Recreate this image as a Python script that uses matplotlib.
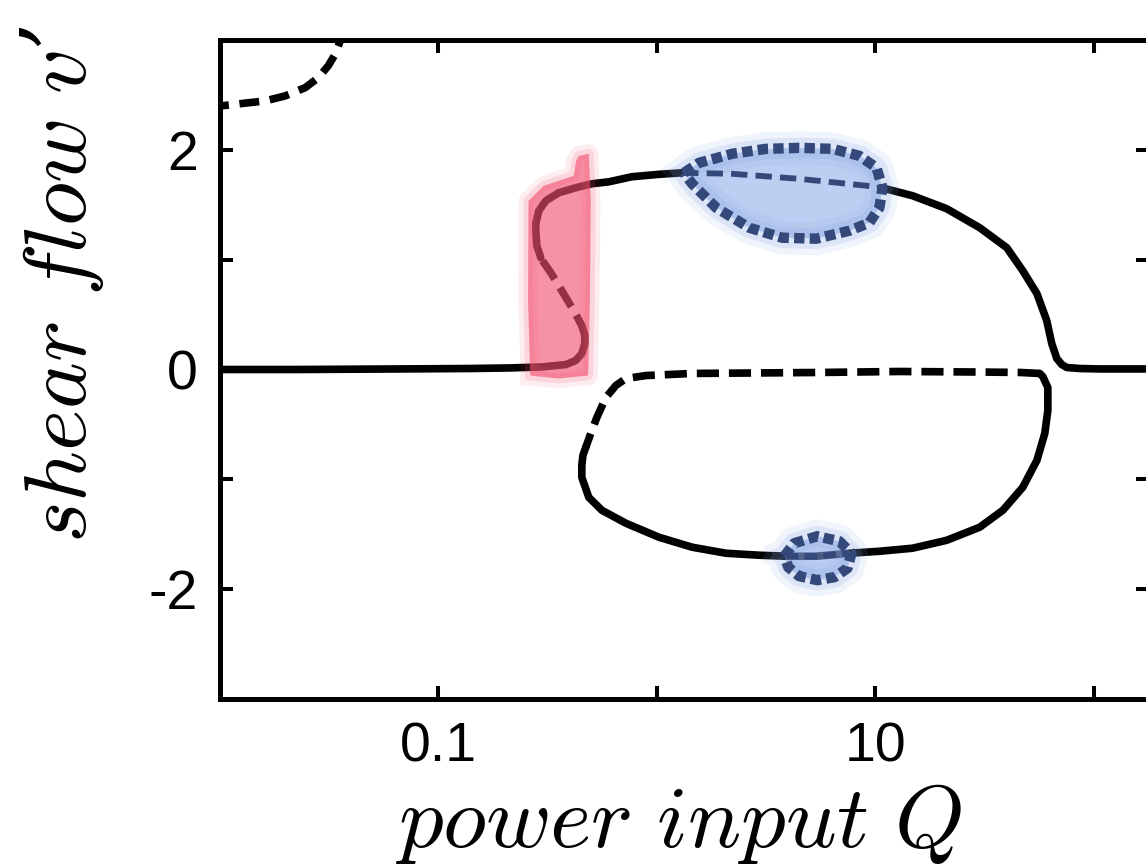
import numpy as np
import matplotlib
matplotlib.use("Agg")
import matplotlib.pyplot as plt

plt.rcParams["mathtext.fontset"] = "cm"
plt.rcParams["font.family"] = ["Liberation Sans", "DejaVu Sans"]

# --- branches: log10(Q) and v' ---
# lower stable branch (solid), up to the lower fold
low_logq = [-2.05, -1.642, -1.183, -0.862, -0.679, -0.528, -0.417, -0.372, -0.344, -0.330, -0.330]
low_v = [0.0, 0.0, 0.005, 0.009, 0.014, 0.023, 0.045, 0.082, 0.145, 0.236, 0.309]

# middle unstable part of the S (dashed)
mid_logq = [-0.330, -0.344, -0.381, -0.436, -0.486, -0.518, -0.532]
mid_v = [0.309, 0.4, 0.536, 0.718, 0.882, 0.973, 1.018]

# upper stable branch up to the Hopf point (solid)
up_logq = [-0.532, -0.550, -0.555, -0.555, -0.541, -0.509, -0.450, -0.372, -0.298, -0.220, -0.115, 0.009, 0.115]
up_v = [1.018, 1.127, 1.264, 1.327, 1.445, 1.536, 1.609, 1.655, 1.691, 1.709, 1.755, 1.777, 1.791]

# unstable continuation inside the blue leaf (dashed)
leafmid_logq = [0.115, 0.344, 0.651, 0.959, 1.028]
leafmid_v = [1.791, 1.782, 1.736, 1.673, 1.655]

# upper branch after the leaf, back down to zero (solid)
right_logq = [1.028, 1.170, 1.326, 1.477, 1.601, 1.674, 1.739, 1.784, 1.807, 1.830, 1.853, 1.876, 1.936, 2.028, 2.30]
right_v = [1.655, 1.582, 1.464, 1.291, 1.109, 0.9, 0.691, 0.445, 0.236, 0.1, 0.045, 0.018, 0.009, 0.005, 0.005]

# isolated loop below: top part (dashed)
loop_top_logq = [1.752, 1.661, 1.477, 1.110, 0.743, 0.422, 0.161, -0.050, -0.142, -0.188, -0.234, -0.275, -0.303, -0.326]
loop_top_v = [-0.036, -0.027, -0.023, -0.018, -0.027, -0.032, -0.036, -0.055, -0.082, -0.145, -0.255, -0.436, -0.582, -0.709]

# isolated loop below: bottom part (solid)
loop_bot_logq = [-0.326, -0.339, -0.344, -0.344, -0.312, -0.252, -0.142, 0.009, 0.161, 0.317, 0.468, 0.592, 0.729,
                 0.881, 1.018, 1.170, 1.326, 1.477, 1.583, 1.674, 1.739, 1.775, 1.789, 1.789, 1.766, 1.752]
loop_bot_v = [-0.709, -0.782, -0.873, -0.982, -1.164, -1.282, -1.4, -1.527, -1.618, -1.673, -1.691, -1.7, -1.7,
              -1.673, -1.655, -1.627, -1.555, -1.436, -1.282, -1.073, -0.827, -0.582, -0.373, -0.164, -0.064, -0.036]

# top-left corner branch (dashed)
corner_logq = [-2.05, -1.995, -1.904, -1.794, -1.702, -1.610, -1.550, -1.505, -1.472, -1.450, -1.443]
corner_v = [2.39, 2.4, 2.421, 2.445, 2.491, 2.566, 2.657, 2.764, 2.873, 2.991, 3.06]

# periodic-orbit envelope (blue leaf) on the upper branch
leaf_logq = [0.124, 0.193, 0.344, 0.5, 0.651, 0.803, 0.927, 1.005, 1.032, 1.018, 0.972, 0.881, 0.729, 0.573, 0.422, 0.271, 0.161, 0.124]
leaf_v = [1.791, 1.882, 1.964, 2.009, 2.018, 2.009, 1.945, 1.836, 1.655, 1.473, 1.336, 1.264, 1.191, 1.2, 1.291, 1.473, 1.691, 1.791]

# small periodic-orbit envelope on the lower loop
blob_logq = [0.583, 0.628, 0.734, 0.835, 0.890, 0.872, 0.812, 0.734, 0.651, 0.601, 0.583]
blob_v = [-1.7, -1.582, -1.518, -1.564, -1.673, -1.809, -1.891, -1.918, -1.882, -1.8, -1.7]
blobmid_logq = [0.59, 0.73, 0.88]
blobmid_v = [-1.70, -1.70, -1.673]

# hysteresis region (red band)
red_logq = [-0.580, -0.590, -0.588, -0.518, -0.381, -0.37, -0.358, -0.312, -0.303, -0.307, -0.315, -0.450, -0.580]
red_v = [-0.055, 0.627, 1.536, 1.673, 1.764, 1.9, 1.945, 1.964, 1.536, 0.627, -0.055, -0.082, -0.055]

x_ticks = [0.1, 1, 10, 100]
x_labels = ["0.1", "", "10", ""]
y_ticks = [-2, -1, 0, 1, 2]
y_labels = ["-2", "", "0", "", "2"]


def q(logq):
    return 10 ** np.asarray(logq)


fig = plt.figure(figsize=(11.46, 8.67), dpi=100)
ax = fig.add_axes([0.19197, 0.19377, 0.81065, 0.76009])

lw = 5.5
dash = (0, (2.9, 1.3))
kw_solid = dict(color="black", lw=lw, solid_capstyle="round", solid_joinstyle="round", zorder=2)
kw_dash = dict(color="black", lw=lw, ls=dash, dash_capstyle="butt", dash_joinstyle="round", zorder=2)

ax.plot(q(low_logq), low_v, **kw_solid)
ax.plot(q(mid_logq), mid_v, **kw_dash)
ax.plot(q(up_logq), up_v, **kw_solid)
ax.plot(q(right_logq), right_v, **kw_solid)
ax.plot(q(loop_top_logq), loop_top_v, **kw_dash)
ax.plot(q(loop_bot_logq), loop_bot_v, **kw_solid)
ax.plot(q(corner_logq), corner_v, color="black", lw=lw, ls=(0, (2.6, 1.4)),
        dash_capstyle="butt", zorder=2)

# red band with soft edges
red_c = "#f2506e"
for w, a in [(14, 0.10), (7, 0.15)]:
    ax.plot(q(red_logq), red_v, color=red_c, lw=w, alpha=a,
            solid_joinstyle="round", zorder=3)
ax.fill(q(red_logq), red_v, color=red_c, alpha=0.62, lw=0, zorder=3)

# blue envelopes with soft halo
blue_c = "#86a6e6"
navy = "#34497a"
for lx, ly in [(leaf_logq, leaf_v), (blob_logq, blob_v)]:
    for w, a in [(24, 0.12), (15, 0.18)]:
        ax.plot(q(lx), ly, color=blue_c, lw=w, alpha=a,
                solid_joinstyle="round", zorder=3)
    ax.fill(q(lx), ly, color=blue_c, alpha=0.55, lw=0, zorder=3)
    ax.plot(q(lx), ly, color=navy, lw=7.5, ls=(0, (1.0, 0.5)),
            dash_capstyle="butt", zorder=4)

ax.plot(q(leafmid_logq), leafmid_v, color=navy, lw=4.2, ls=(0, (2.8, 1.4)),
        dash_capstyle="butt", zorder=4)
ax.plot(q(blobmid_logq), blobmid_v, color=navy, lw=4.5, ls=(0, (2.0, 1.0)),
        dash_capstyle="butt", zorder=4)

ax.set_xscale("log")
ax.set_xlim(0.01, 10 ** 2.252)
ax.set_ylim(-3, 3)
ax.set_xticks(x_ticks)
ax.set_xticklabels(x_labels)
ax.xaxis.set_minor_locator(matplotlib.ticker.NullLocator())
ax.set_yticks(y_ticks)
ax.set_yticklabels(y_labels)

for s in ax.spines.values():
    s.set_linewidth(3.6)
ax.tick_params(which="major", direction="in", length=9.5, width=2.9,
               top=True, right=True, labelsize=40, pad=16)

fig.text(678 / 1146, 20 / 867, r"$power\ input\ Q$", fontsize=64,
         ha="center", va="baseline")
fig.text(62 / 1146, 1 - 284 / 867, r"$shear\ flow\ v$’", fontsize=64,
         family=["DejaVu Serif"], style="italic",
         rotation=90, ha="center", va="center")

fig.savefig("out.png", dpi=100)
